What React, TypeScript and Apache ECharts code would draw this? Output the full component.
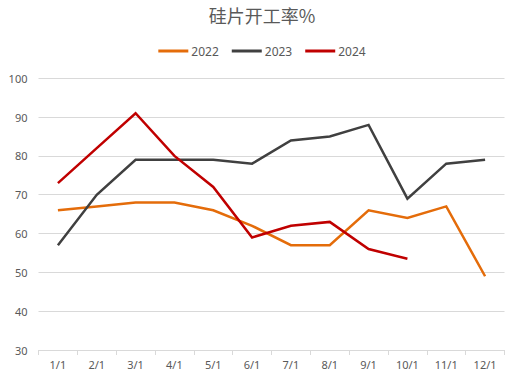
import React, { useEffect, useRef } from "react";
import * as echarts from "echarts";

const categories = ["1/1", "2/1", "3/1", "4/1", "5/1", "6/1", "7/1", "8/1", "9/1", "10/1", "11/1", "12/1"];
const s2022 = [66, 67, 68, 68, 66, 62, 57, 57, 66, 64, 67, 49];
const s2023 = [57, 70, 79, 79, 79, 78, 84, 85, 88, 69, 78, 79];
const s2024 = [73, 82, 91, 80, 72, 59, 62, 63, 56, 53.5];
const seriesNames = ["2022", "2023", "2024"];
const colors = ["#E46C0A", "#404040", "#C00000"];

export default function App() {
  const ref = useRef<HTMLDivElement>(null);
  useEffect(() => {
    const chart = echarts.init(ref.current!, null, { renderer: "svg" });
    const font = "'Noto Sans', 'Noto Sans CJK SC', sans-serif";
    const data = [s2022, s2023, s2024];
    chart.setOption({
      animation: false,
      backgroundColor: "#ffffff",
      title: {
        text: "硅片开工率%",
        left: "center",
        top: 1,
        textStyle: { fontFamily: "'Noto Sans CJK SC', sans-serif", fontSize: 18, fontWeight: "normal", color: "#595959" },
      },
      legend: {
        top: 40,
        left: "center",
        icon: "rect",
        itemWidth: 30,
        itemHeight: 3,
        itemGap: 13,
        data: seriesNames,
        textStyle: { fontFamily: font, fontSize: 12, color: "#595959", padding: [0, 0, 0, -2] },
      },
      grid: { left: 38.5, right: 19.5, top: 78.3, bottom: 31, containLabel: false },
      xAxis: {
        type: "category",
        data: categories,
        boundaryGap: true,
        axisLine: { lineStyle: { color: "#D9D9D9" } },
        axisTick: { show: true, length: 5, lineStyle: { color: "#D9D9D9" } },
        axisLabel: { fontFamily: font, fontSize: 11, color: "#595959", margin: 9 },
      },
      yAxis: {
        type: "value",
        min: 30,
        max: 100,
        interval: 10,
        axisLine: { show: false },
        axisTick: { show: false },
        splitLine: { lineStyle: { color: "#D9D9D9" } },
        axisLabel: { fontFamily: font, fontSize: 11, color: "#595959", margin: 11 },
      },
      series: seriesNames.map((n, i) => ({
        name: n,
        type: "line",
        data: data[i],
        symbol: "none",
        showSymbol: false,
        color: colors[i],
        lineStyle: { width: 2.5, color: colors[i], join: "miter" },
      })),
    });
    return () => chart.dispose();
  }, []);
  return <div ref={ref} style={{ width: 524, height: 381, position: "absolute", left: 0, top: 0 }} />;
}
